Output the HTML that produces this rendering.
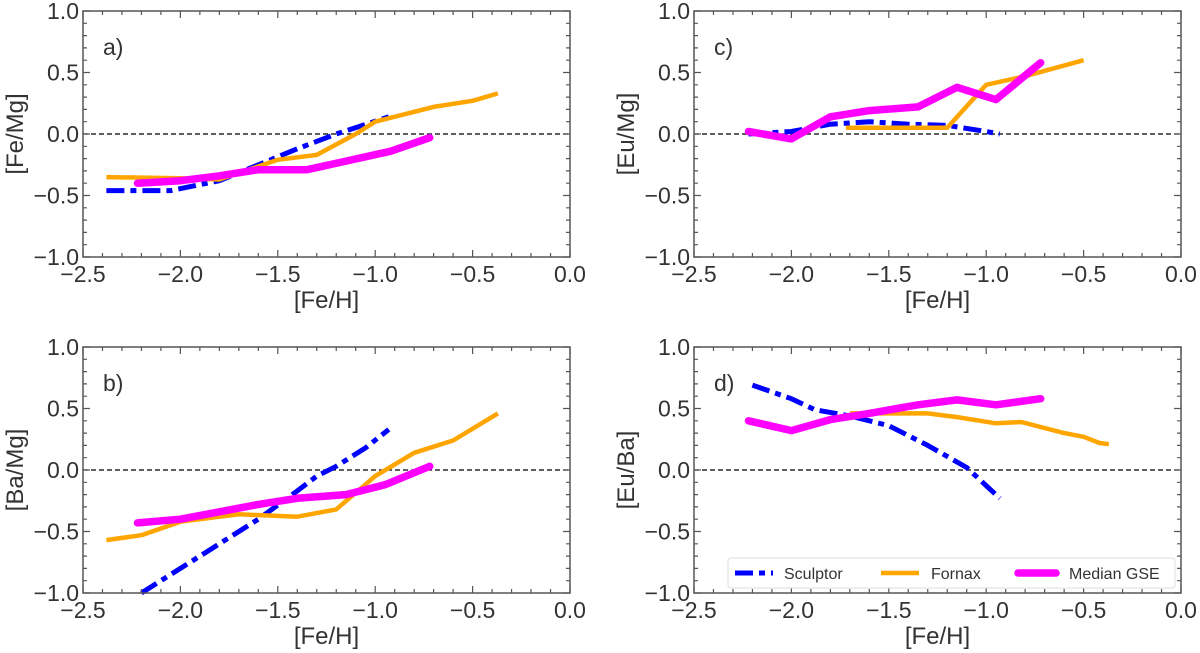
<!DOCTYPE html>
<html><head><meta charset="utf-8"><style>
html,body{margin:0;padding:0;background:#fff;}
svg{display:block;font-family:"Liberation Sans","DejaVu Sans",sans-serif;}
</style></head><body>
<svg id="fig" width="1200" height="653" viewBox="0 0 1200 653" xmlns="http://www.w3.org/2000/svg"></svg>
<script>
// ---- data ----
const panelIds = ['a','b','c','d'];
const yLabels = ['[Fe/Mg]','[Ba/Mg]','[Eu/Mg]','[Eu/Ba]'];
const xTicks = [-2.5,-2.0,-1.5,-1.0,-0.5,0.0];
const xTickLabels = ['\u22122.5','\u22122.0','\u22121.5','\u22121.0','\u22120.5','0.0'];
const yTicks = [1.0,0.5,0.0,-0.5,-1.0];
const yTickLabels = ['1.0','0.5','0.0','\u22120.5','\u22121.0'];

const sculptA_x = [-2.38,-2.05,-1.8,-1.6,-1.4,-1.2,-0.93];
const sculptA_y = [-0.46,-0.46,-0.38,-0.25,-0.12,0.0,0.14];
const fornaxA_x = [-2.38,-2.0,-1.8,-1.5,-1.3,-1.1,-1.0,-0.7,-0.5,-0.37];
const fornaxA_y = [-0.35,-0.36,-0.37,-0.21,-0.17,0.0,0.1,0.22,0.27,0.33];
const gseA_x = [-2.22,-2.0,-1.8,-1.6,-1.35,-1.15,-0.92,-0.72];
const gseA_y = [-0.4,-0.38,-0.34,-0.29,-0.29,-0.22,-0.14,-0.03];

const sculptB_x = [-2.2,-2.0,-1.8,-1.6,-1.4,-1.3,-1.2,-1.05,-0.93];
const sculptB_y = [-1.0,-0.8,-0.6,-0.4,-0.17,-0.05,0.03,0.18,0.33];
const fornaxB_x = [-2.38,-2.2,-2.0,-1.7,-1.4,-1.2,-1.0,-0.8,-0.6,-0.37];
const fornaxB_y = [-0.57,-0.53,-0.42,-0.36,-0.38,-0.32,-0.05,0.14,0.24,0.46];
const gseB_x = [-2.22,-2.0,-1.8,-1.6,-1.4,-1.15,-0.95,-0.72];
const gseB_y = [-0.43,-0.4,-0.34,-0.28,-0.23,-0.2,-0.12,0.03];

const sculptC_x = [-2.22,-2.0,-1.8,-1.6,-1.4,-1.2,-1.0,-0.93];
const sculptC_y = [0.0,0.02,0.08,0.1,0.08,0.07,0.02,0.0];
const fornaxC_x = [-1.72,-1.2,-1.0,-0.8,-0.5];
const fornaxC_y = [0.05,0.05,0.4,0.47,0.6];
const gseC_x = [-2.22,-2.0,-1.8,-1.6,-1.35,-1.15,-0.95,-0.72];
const gseC_y = [0.02,-0.04,0.14,0.19,0.22,0.38,0.28,0.58];

const sculptD_x = [-2.2,-2.0,-1.88,-1.7,-1.5,-1.3,-1.1,-0.93];
const sculptD_y = [0.69,0.58,0.49,0.44,0.36,0.2,0.02,-0.23];
const fornaxD_x = [-1.7,-1.3,-1.15,-0.95,-0.82,-0.6,-0.5,-0.42,-0.37];
const fornaxD_y = [0.46,0.46,0.43,0.38,0.39,0.3,0.27,0.22,0.21];
const gseD_x = [-2.22,-2.0,-1.8,-1.6,-1.35,-1.15,-0.95,-0.72];
const gseD_y = [0.4,0.32,0.41,0.46,0.53,0.57,0.53,0.58];

const seriesX = {a:[sculptA_x,fornaxA_x,gseA_x],b:[sculptB_x,fornaxB_x,gseB_x],c:[sculptC_x,fornaxC_x,gseC_x],d:[sculptD_x,fornaxD_x,gseD_x]};
const seriesY = {a:[sculptA_y,fornaxA_y,gseA_y],b:[sculptB_y,fornaxB_y,gseB_y],c:[sculptC_y,fornaxC_y,gseC_y],d:[sculptD_y,fornaxD_y,gseD_y]};
const seriesNames = ['Sculptor','Fornax','Median GSE'];

// ---- layout ----
const NS='http://www.w3.org/2000/svg';
const svg=document.getElementById('fig');
const boxes={a:[83,11],b:[83,347],c:[694,11],d:[694,347]};
const W=487,H=246;
const styles=[
 {stroke:'#0000ff',w:5,dash:'18 6 6 6'},
 {stroke:'#ffa500',w:4.5,dash:''},
 {stroke:'#ff00ff',w:7.5,dash:''}
];
function mk(tag,attrs,parent){const e=document.createElementNS(NS,tag);for(const k in attrs)e.setAttribute(k,attrs[k]);(parent||svg).appendChild(e);return e;}

panelIds.forEach((p,pi)=>{
  const [x0,y0]=boxes[p];
  const sx=v=>x0+(v+2.5)/2.5*W;
  const sy=v=>y0+(1-v)/2*H;
  const g=mk('g',{});
  
  
  const zl=mk('line',{x1:x0,x2:x0+W,y1:sy(0),y2:sy(0),stroke:'#000','stroke-width':1.3,'stroke-dasharray':'5 3'},g);
  
  
  for(let s=0;s<3;s++){
    const xs=seriesX[p][s],ys=seriesY[p][s];
    const pts=xs.map((v,i)=>sx(v).toFixed(1)+','+sy(ys[i]).toFixed(1)).join(' ');
    const st=styles[s];
    const pl=mk('polyline',{points:pts,fill:'none',stroke:st.stroke,'stroke-width':st.w,'stroke-linejoin':'round','stroke-linecap':s===2?'round':'butt'},g);
    if(st.dash)pl.setAttribute('stroke-dasharray',st.dash);
    
    
  }
  const fr=mk('rect',{x:x0,y:y0,width:W,height:H,fill:'none',stroke:'#555','stroke-width':1.5},g);
  
  
  let tk='';
  for(let i=0;i<=25;i++){const v=-2.5+i*0.1;const X=sx(v);const L=(i%5===0)?7:4;
    tk+=`M${X},${y0+H}v${-L}M${X},${y0}v${L}`;}
  for(let i=0;i<=20;i++){const v=-1+i*0.1;const Y=sy(v);const L=(i%5===0)?7:4;
    tk+=`M${x0},${Y}h${L}M${x0+W},${Y}h${-L}`;}
  const tp=mk('path',{d:tk,stroke:'#555','stroke-width':1.2,fill:'none'},g);
  
  
  xTicks.forEach((v,i)=>{
    const t=mk('text',{x:sx(v),y:y0+H+25,'text-anchor':'middle','font-size':23,fill:'#333'},g);
    t.textContent=xTickLabels[i];
    
    
  });
  yTicks.forEach((v,i)=>{
    const t=mk('text',{x:x0-4,y:sy(v)+8,'text-anchor':'end','font-size':23,fill:'#333'},g);
    t.textContent=yTickLabels[i];
    
    
  });
  const xl=mk('text',{x:x0+W/2,y:y0+H+51,'text-anchor':'middle','font-size':24,fill:'#333'},g);
  xl.textContent='[Fe/H]';
  
  
  const yl=mk('text',{x:0,y:0,'text-anchor':'middle','font-size':24,fill:'#333',transform:`translate(${x0-60},${y0+H/2}) rotate(-90)`},g);
  yl.textContent=yLabels[pi];
  
  
  const pl=mk('text',{x:x0+20,y:y0+44,'font-size':23,fill:'#333'},g);
  pl.textContent=p+')';
  
  
});

const lg=mk('g',{});


const lr=mk('rect',{x:728,y:558,width:447,height:30,rx:3,fill:'#fff',stroke:'#ddd','stroke-width':1},lg);


const legLineX=[735,881,1018];
const legTextX=[784,931,1069];
for(let s=0;s<3;s++){
  const st=styles[s];
  const l=mk('line',{x1:legLineX[s],x2:legLineX[s]+38,y1:573,y2:573,stroke:st.stroke,'stroke-width':st.w,'stroke-linecap':s===2?'round':'butt'},lg);
  if(st.dash)l.setAttribute('stroke-dasharray',st.dash);
  
  
  const t=mk('text',{x:legTextX[s],y:579,'font-size':16,fill:'#333'},lg);
  t.textContent=seriesNames[s];
  
  
}
</script>
</body></html>
